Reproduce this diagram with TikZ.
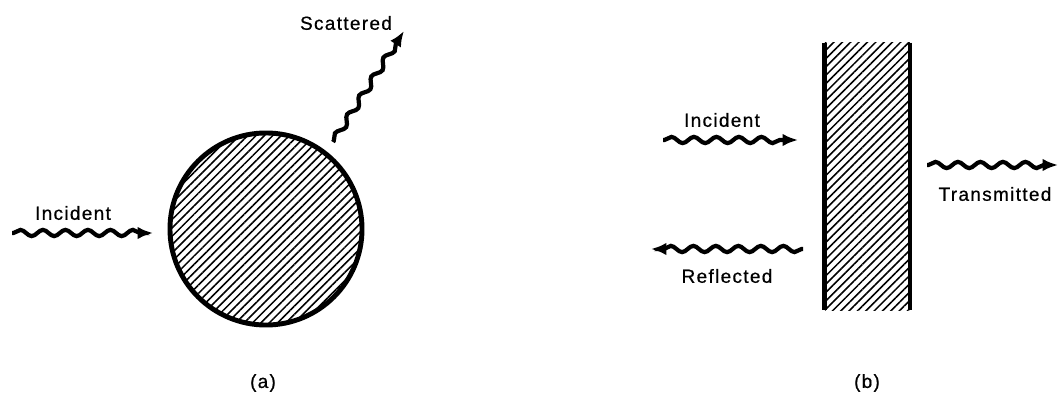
\documentclass[tikz,border=0pt]{standalone}
\usepackage{fontspec}
\setmainfont{Liberation Sans}[LetterSpace=7, FakeBold=0.6]
\usepackage{tikz}
\usetikzlibrary{arrows.meta, decorations.pathmorphing, patterns.meta}

\begin{document}
\begin{tikzpicture}[x=0.025cm, y=-0.025cm,
    wave/.style={line width=3pt, -{Latex[length=11pt, width=9pt]}, decorate,
        decoration={snake, amplitude=2.2pt, segment length=16pt, pre length=1pt, post length=8pt}},
    hatch/.style={pattern={Lines[angle=45, distance=4.2pt, line width=1.1pt]}},
    ball/.style={circle, hatch, draw, line width=3.5pt, minimum size=4.8cm, inner sep=0pt},
    slab/.style={rectangle, hatch, minimum width=2.125cm, minimum height=6.675cm, inner sep=0pt},
    lbl/.style={font=\fontsize{13.5pt}{15pt}\selectfont, inner sep=0pt},
]
    \useasboundingbox (0,0) rectangle (1059,400);
    % (a) sphere
    \node[ball] (ball) at (266,229) {};
    \coordinate (inA) at (12,233);
    \coordinate (inB) at (153,233);
    \coordinate (scA) at (333,142);
    \coordinate (scB) at (404,31);
    \draw[wave] (inA) -- (inB);
    \draw[wave] (scA) -- (scB);
    \node[lbl] (incA) at (73,213) {Incident};
    \node[lbl] (scat) at (346,23) {Scattered};
    \node[lbl] (capA) at (263,383) {(a)};
    % (b) slab
    \node[slab] (slab) at (867.5,176.5) {};
    \draw[line width=3.8pt] (slab.north west) -- (slab.south west);
    \draw[line width=2.6pt] (slab.north east) -- (slab.south east);
    \coordinate (biA) at (663,140);
    \coordinate (biB) at (798,140);
    \coordinate (rfA) at (803,249);
    \coordinate (rfB) at (651,249);
    \coordinate (trA) at (927,165);
    \coordinate (trB) at (1058,165);
    \draw[wave] (biA) -- (biB);
    \draw[wave] (rfA) -- (rfB);
    \draw[wave] (trA) -- (trB);
    \node[lbl] (incB) at (722,120) {Incident};
    \node[lbl] (refl) at (727,276) {Reflected};
    \node[lbl] (trans) at (995,194) {Transmitted};
    \node[lbl] (capB) at (867,383) {(b)};
\end{tikzpicture}
\end{document}
